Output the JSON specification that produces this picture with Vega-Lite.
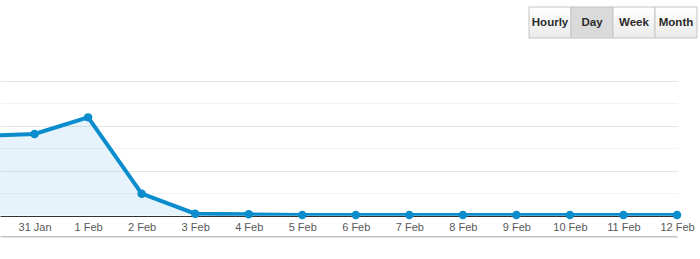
{
  "$schema": "https://vega.github.io/schema/vega-lite/v6.json",
  "padding": {"left": 0, "top": 6, "right": 0, "bottom": 12},
  "background": "white",
  "config": {"view": {"stroke": null}, "font": "Liberation Sans"},
  "spacing": 42,
  "vconcat": [
    {
      "width": 697,
      "height": 31,
      "data": {"values": [
        {"label": "Hourly"},
        {"label": "Day"},
        {"label": "Week"},
        {"label": "Month"}
      ]},
      "encoding": {
        "x": {
          "field": "label",
          "type": "nominal",
          "sort": null,
          "axis": null,
          "scale": {
            "type": "band",
            "domain": ["Hourly", "Day", "Week", "Month"],
            "range": [529, 697],
            "paddingInner": 0,
            "paddingOuter": 0
          }
        }
      },
      "layer": [
        {
          "mark": {"type": "rect", "stroke": "#c4c4c4", "strokeWidth": 1},
          "encoding": {
            "fill": {
              "condition": {"test": "datum.label === 'Day'", "value": "#dadada"},
              "value": {
                "gradient": "linear",
                "x1": 0, "y1": 0, "x2": 0, "y2": 1,
                "stops": [
                  {"offset": 0, "color": "#ffffff"},
                  {"offset": 1, "color": "#eaeaea"}
                ]
              }
            }
          }
        },
        {
          "mark": {
            "type": "text",
            "font": "Liberation Sans",
            "fontSize": 11.5,
            "fontWeight": "bold",
            "color": "#2b2b2b"
          },
          "encoding": {"text": {"field": "label"}}
        }
      ]
    },
    {
      "width": 677,
      "height": 134.7,
      "data": {"values": [
        {"date": "2024-01-30", "value": 178},
        {"date": "2024-01-31", "value": 182},
        {"date": "2024-02-01", "value": 219},
        {"date": "2024-02-02", "value": 49},
        {"date": "2024-02-03", "value": 4.5},
        {"date": "2024-02-04", "value": 3},
        {"date": "2024-02-05", "value": 1.5},
        {"date": "2024-02-06", "value": 1.5},
        {"date": "2024-02-07", "value": 1.5},
        {"date": "2024-02-08", "value": 1.5},
        {"date": "2024-02-09", "value": 1.5},
        {"date": "2024-02-10", "value": 1.5},
        {"date": "2024-02-11", "value": 1.5},
        {"date": "2024-02-12", "value": 1.5}
      ]},
      "encoding": {
        "x": {
          "field": "date",
          "type": "temporal",
          "scale": {
            "type": "utc",
            "domain": [
              {"year": 2024, "month": 1, "date": 30, "hours": 8, "minutes": 30, "utc": true},
              {"year": 2024, "month": 2, "date": 12, "utc": true}
            ]
          },
          "axis": {
            "values": [
              {"year": 2024, "month": 1, "date": 31, "utc": true},
              {"year": 2024, "month": 2, "date": 1, "utc": true},
              {"year": 2024, "month": 2, "date": 2, "utc": true},
              {"year": 2024, "month": 2, "date": 3, "utc": true},
              {"year": 2024, "month": 2, "date": 4, "utc": true},
              {"year": 2024, "month": 2, "date": 5, "utc": true},
              {"year": 2024, "month": 2, "date": 6, "utc": true},
              {"year": 2024, "month": 2, "date": 7, "utc": true},
              {"year": 2024, "month": 2, "date": 8, "utc": true},
              {"year": 2024, "month": 2, "date": 9, "utc": true},
              {"year": 2024, "month": 2, "date": 10, "utc": true},
              {"year": 2024, "month": 2, "date": 11, "utc": true},
              {"year": 2024, "month": 2, "date": 12, "utc": true}
            ],
            "labelExpr": "utcFormat(datum.value, '%-d %b')",
            "orient": "bottom",
            "offset": 20.5,
            "title": null,
            "grid": false,
            "ticks": false,
            "domain": true,
            "labelBaseline": "alphabetic",
            "labelPadding": -5.5,
            "labelFontSize": 11,
            "labelFont": "Liberation Sans",
            "labelColor": "#585858",
            "labelFlush": false,
            "labelOverlap": false,
            "domainColor": "#c4c4c4",
            "domainWidth": 1.5,
            "domainOpacity": 1
          }
        },
        "y": {
          "field": "value",
          "type": "quantitative",
          "scale": {"domain": [0, 300], "nice": false},
          "axis": {
            "values": [0, 50, 100, 150, 200, 250, 300],
            "labels": false,
            "ticks": false,
            "domain": false,
            "title": null,
            "grid": true,
            "gridColor": {
              "condition": [
                {"test": "datum.value === 0", "value": "#333333"},
                {"test": "datum.value % 100 === 0", "value": "#e6e6e6"}
              ],
              "value": "#f3f3f3"
            }
          }
        }
      },
      "layer": [
        {
          "mark": {"type": "area", "color": "#0b8dcd", "opacity": 0.1, "clip": true}
        },
        {
          "mark": {"type": "line", "color": "#0b8dcd", "strokeWidth": 4, "clip": true}
        },
        {
          "transform": [{"filter": "time(datum.date) >= utc(2024, 0, 31)"}],
          "mark": {"type": "point", "filled": true, "color": "#0b8dcd", "size": 72, "opacity": 1}
        }
      ]
    }
  ]
}
